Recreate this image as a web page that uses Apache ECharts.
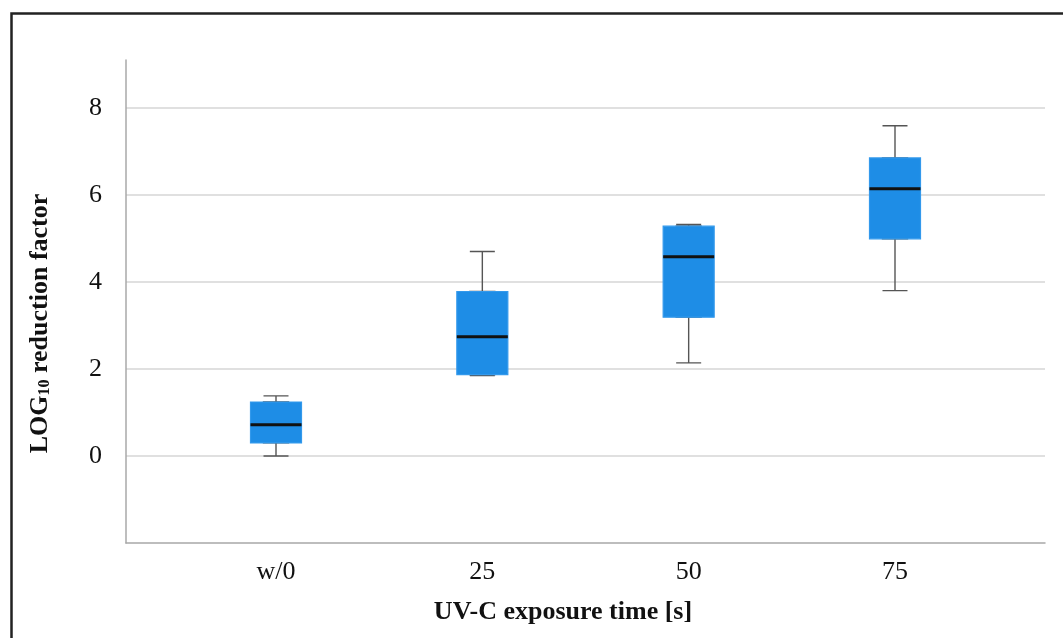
<!DOCTYPE html>
<html>
<head>
<meta charset="utf-8">
<script src="https://cdn.jsdelivr.net/npm/echarts@6/dist/echarts.min.js"></script>
<style>
html,body{margin:0;padding:0;background:#fff;}
#chart{width:1063px;height:638px;}
</style>
</head>
<body>
<div id="chart"></div>
<script>
// ---- data ----
const categories = ['w/0', '25', '50', '75'];
const whiskerLow  = [0.00, 1.85, 2.14, 3.80];
const q1Values    = [0.30, 1.87, 3.19, 4.99];
const medianVals  = [0.72, 2.74, 4.58, 6.14];
const q3Values    = [1.24, 3.78, 5.28, 6.85];
const whiskerHigh = [1.38, 4.70, 5.32, 7.59];
const yTickLabels = [0, 2, 4, 6, 8];

const FONT = "'Liberation Serif', 'Times New Roman', serif";
const BLUE = '#1E8DE6';

const idx = categories.map((c, i) => i);
const whiskerData = idx.map(i => [i, whiskerLow[i], q1Values[i], medianVals[i], q3Values[i], whiskerHigh[i]]);
const boxData = idx.map(i => [i, q1Values[i], q1Values[i], medianVals[i], q3Values[i], q3Values[i]]);
const medData = idx.map(i => [i, medianVals[i], medianVals[i], medianVals[i], medianVals[i], medianVals[i]]);

const xMin = -0.727, xMax = categories.length - 1 + 0.727;

const hiddenX = (k) => ({type: 'value', gridIndex: 0, min: xMin, max: xMax, show: false, id: 'hx' + k});

const chart = echarts.init(document.getElementById('chart'), null, {renderer: 'canvas'});
chart.setOption({
  animation: false,
  backgroundColor: '#fff',
  graphic: [{
    type: 'rect', left: 9, top: 11, silent: true, z: 100,
    shape: {width: 1100, height: 700},
    style: {fill: 'none', stroke: '#222', lineWidth: 2.5}
  }],
  grid: {left: 126, right: 18, top: 60, bottom: 95, containLabel: false},
  xAxis: [{
    type: 'value', min: xMin, max: xMax,
    name: 'UV-C exposure time [s]', nameLocation: 'middle', nameGap: 56,
    nameTextStyle: {fontFamily: FONT, fontWeight: 'bold', fontSize: 26, color: '#111', padding: [0, 45, 0, 0]},
    axisLine: {show: true, onZero: false, lineStyle: {color: '#a8a8a8', width: 1.5}},
    axisTick: {show: false},
    splitLine: {show: false},
    axisLabel: {
      customValues: idx, margin: 16,
      fontFamily: FONT, fontSize: 26, color: '#111',
      formatter: v => categories[Math.round(v)]
    }
  }, hiddenX(1), hiddenX(2)],
  yAxis: {
    type: 'value', min: -2, max: 9.1, interval: 2,
    name: 'LOG{s|10} reduction factor', nameLocation: 'middle', nameGap: 73,
    nameTextStyle: {
      fontFamily: FONT, fontWeight: 'bold', fontSize: 26, color: '#111', padding: [0, 44, 0, 0],
      rich: {s: {fontFamily: FONT, fontWeight: 'bold', fontSize: 16, color: '#111', verticalAlign: 'bottom'}}
    },
    axisLine: {show: true, onZero: false, lineStyle: {color: '#a8a8a8', width: 1.5}},
    axisTick: {show: false},
    axisLabel: {
      margin: 24, fontFamily: FONT, fontSize: 26, color: '#111',
      showMinLabel: false, showMaxLabel: false,
      formatter: v => (yTickLabels.indexOf(v) >= 0 ? String(v) : '')
    },
    splitLine: {show: true, showMinLine: false, showMaxLine: false, lineStyle: {color: '#d6d6d6', width: 1.5}}
  },
  series: [{
    type: 'boxplot', xAxisIndex: 0, z: 2,
    boxWidth: [25, 25],
    data: whiskerData,
    itemStyle: {color: BLUE, borderColor: '#555', borderWidth: 1.4},
    emphasis: {disabled: true}
  }, {
    type: 'boxplot', xAxisIndex: 1, z: 3,
    boxWidth: [51, 51],
    data: boxData,
    itemStyle: {color: BLUE, borderColor: '#3399EC', borderWidth: 1.2},
    emphasis: {disabled: true}
  }, {
    type: 'boxplot', xAxisIndex: 2, z: 4,
    boxWidth: [51, 51],
    data: medData,
    itemStyle: {color: '#111', borderColor: '#111', borderWidth: 3},
    emphasis: {disabled: true}
  }]
});
</script>
</body>
</html>
